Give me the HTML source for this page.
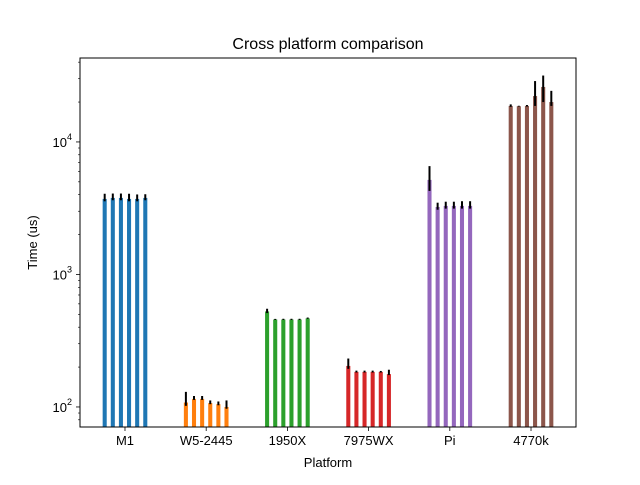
<!DOCTYPE html>
<html><head><meta charset="utf-8"><style>
body{margin:0;background:#fff}
svg{font-family:"Liberation Sans","DejaVu Sans",sans-serif}
</style></head><body>
<svg id="chart" width="640" height="480" xmlns="http://www.w3.org/2000/svg">
<rect width="640" height="480" fill="#fff"/>
<text x="328" y="49" font-size="16" text-anchor="middle">Cross platform comparison</text>
<text x="328" y="467" font-size="13" text-anchor="middle">Platform</text>
<text transform="translate(37,242.5) rotate(-90)" font-size="13" text-anchor="middle">Time (us)</text>
<g id="plot"></g>
</svg>
<script>
const categories = ["M1","W5-2445","1950X","7975WX","Pi","4770k"];
const colors = ["#1f77b4","#ff7f0e","#2ca02c","#d62728","#9467bd","#8c564b"];
const valuesM1 = [3715,3780,3780,3715,3715,3780];
const valuesW5 = [108,115,115,107,105,100];
const values1950X = [526,457,457,457,457,466];
const values7975WX = [204,184,184,184,184,177];
const valuesPi = [5170,3230,3290,3290,3290,3290];
const values4770k = [18700,18600,18700,22200,26000,20000];
const errHiM1 = [350,300,300,350,300,250];
const errHiW5 = [22,6,6,5,5,12];
const errHi1950X = [25,5,6,6,6,7];
const errHi7975WX = [28,4,4,4,3,14];
const errHiPi = [1400,250,250,250,280,280];
const errHi4770k = [500,150,300,6600,5700,4300];
const errLoM1 = [150,150,150,150,150,150];
const errLoW5 = [6,2,2,2,2,3];
const errLo1950X = [15,3,3,3,3,3];
const errLo7975WX = [10,2,2,2,2,3];
const errLoPi = [900,150,150,150,150,150];
const errLo4770k = [300,100,200,3500,6000,1300];
const yTicks = [100,1000,10000];
const yTickLabels = ["2","3","4"];

const series=[valuesM1,valuesW5,values1950X,values7975WX,valuesPi,values4770k];
const errsHi=[errHiM1,errHiW5,errHi1950X,errHi7975WX,errHiPi,errHi4770k];
const errsLo=[errLoM1,errLoW5,errLo1950X,errLo7975WX,errLoPi,errLo4770k];
const L=80,R=576,T=58,B=427;
const xMin=-0.554,xMax=5.554;
const yMin=Math.log10(70.6),yMax=Math.log10(43000);
const xs=v=>L+(v-xMin)/(xMax-xMin)*(R-L);
const ys=v=>B-(Math.log10(v)-yMin)/(yMax-yMin)*(B-T);
const NS="http://www.w3.org/2000/svg";
const g=document.getElementById('plot');
function mk(tag,attrs){const e=document.createElementNS(NS,tag);for(const k in attrs)e.setAttribute(k,attrs[k]);g.appendChild(e);return e;}
series.forEach((vals,gi)=>{
  vals.forEach((v,i)=>{
    const cx=gi+(i-2.5)*0.1;
    const x0=xs(cx-0.025),x1=xs(cx+0.025);
    const r=mk('rect',{x:x0,y:ys(v),width:x1-x0,height:B-ys(v),fill:colors[gi]});
    
    
  });
  vals.forEach((v,i)=>{
    const cx=gi+(i-2.5)*0.1;
    const ln=mk('line',{x1:xs(cx),x2:xs(cx),y1:ys(v+errsHi[gi][i]),y2:ys(Math.max(v-errsLo[gi][i],1)),stroke:'#000','stroke-width':2});
    
    
  });
});
const fr=mk('rect',{x:L,y:T,width:R-L,height:B-T,fill:'none',stroke:'#000','stroke-width':1});


categories.forEach((c,i)=>{
  const x=xs(i);
  mk('line',{x1:x,x2:x,y1:B,y2:B+4,stroke:'#000','stroke-width':0.8});
  const t=mk('text',{x:x,y:B+18,'font-size':13,'text-anchor':'middle'});
  t.textContent=c;
  
  
});
for(let d=1;d<=4;d++){
  for(let m=1;m<10;m++){
    const v=m*Math.pow(10,d);
    if(Math.log10(v)<yMin||Math.log10(v)>yMax)continue;
    const y=ys(v);
    mk('line',{x1:L-(m===1?4:2),x2:L,y1:y,y2:y,stroke:'#000','stroke-width':m===1?0.8:0.6});
  }
}
yTicks.forEach((v,i)=>{
  const y=ys(v);
  const t=mk('text',{x:L-8,y:y+5,'font-size':13,'text-anchor':'end'});
  
  
  t.innerHTML='10<tspan dy="-7" font-size="9">'+yTickLabels[i]+'</tspan>';
});
</script>
</body></html>
